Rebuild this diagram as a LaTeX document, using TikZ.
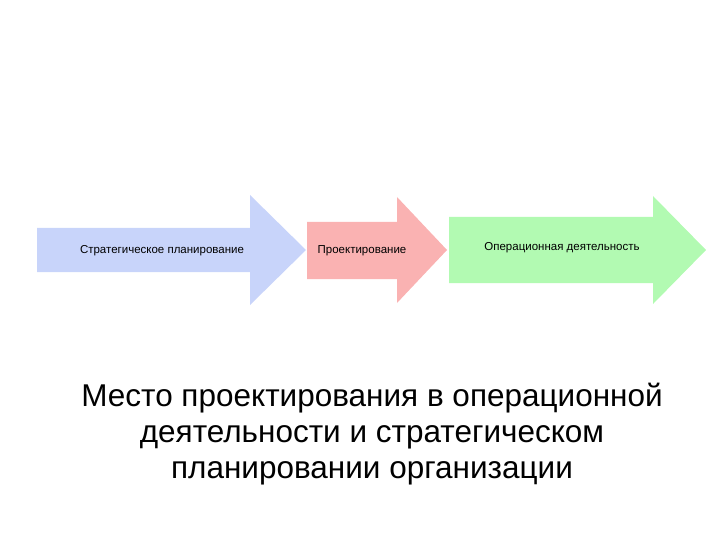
\documentclass[tikz,border=0pt]{standalone}
\usepackage{fontspec}
\setmainfont{Liberation Sans}
\begin{document}
\begin{tikzpicture}[x=1pt,y=-1pt,
  lbl/.style={font=\fontsize{11.5}{13}\selectfont, inner sep=0pt},
  ttl/.style={font=\fontsize{31.5}{36}\selectfont, align=center, inner sep=0pt}]
\useasboundingbox (0,0) rectangle (720,540);
\fill[fill={rgb,255:red,200;green,212;blue,250}] (37,228) -- (250,228) -- (250,195) -- (306,250) -- (250,305) -- (250,272) -- (37,272) -- cycle;
\fill[fill={rgb,255:red,250;green,178;blue,178}] (307,222) -- (397,222) -- (397,197) -- (447,250) -- (397,303) -- (397,279) -- (307,279) -- cycle;
\fill[fill={rgb,255:red,178;green,250;blue,178}] (449,217) -- (653,217) -- (653,196) -- (706,250) -- (653,304) -- (653,283) -- (449,283) -- cycle;
\node[lbl] (a) at (162,251) {Стратегическое планирование};
\node[lbl] (b) at (362,251) {Проектирование};
\node[lbl] (c) at (562,248) {Операционная деятельность};
\node[ttl] (t) at (372,434) {Место проектирования в операционной\\деятельности и стратегическом\\планировании организации};
\end{tikzpicture}
\end{document}
